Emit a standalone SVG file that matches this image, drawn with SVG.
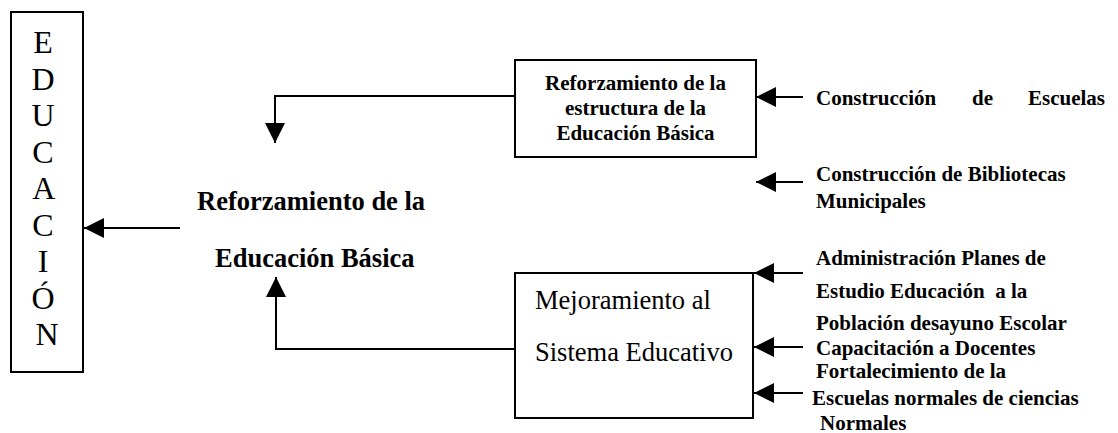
<svg xmlns="http://www.w3.org/2000/svg" width="1118" height="433" viewBox="0 0 1118 433">
<style>
.box{fill:#fff;stroke:#000;stroke-width:2}
.ln{fill:none;stroke:#000;stroke-width:2}
.b{font-family:"Liberation Serif",serif;font-weight:bold;fill:#000}
.r{font-family:"Liberation Serif",serif;fill:#000}
</style>
<defs>
<marker id="ah" markerUnits="userSpaceOnUse" markerWidth="20" markerHeight="20" refX="20" refY="10" orient="auto" viewBox="0 0 20 20">
<path d="M0,0 L20,10 L0,20 z" fill="#000"/>
</marker>
</defs>
<g id="educacion">
<rect class="box" x="11" y="12" width="72" height="360"/>
<text class="r" font-size="32" text-anchor="middle">
<tspan x="47" y="53">E</tspan>
<tspan x="47" y="89.5">D</tspan>
<tspan x="47" y="126">U</tspan>
<tspan x="47" y="162.5">C</tspan>
<tspan x="47" y="199">A</tspan>
<tspan x="47" y="235.5">C</tspan>
<tspan x="47" y="272">I</tspan>
<tspan x="47" y="308.5">Ó</tspan>
<tspan x="47" y="345">N</tspan>
</text>
</g>
<g id="reforzamiento">
<text class="b" font-size="26.5"><tspan x="197" y="210">Reforzamiento de la</tspan><tspan x="215" y="267">Educación Básica</tspan></text>
</g>
<g id="estructura">
<rect class="box" x="515" y="60" width="241" height="97"/>
<text class="b" font-size="21" text-anchor="middle"><tspan x="635.5" y="90">Reforzamiento de la</tspan><tspan x="635.5" y="115">estructura de la</tspan><tspan x="635.5" y="140">Educación Básica</tspan></text>
</g>
<g id="mejoramiento">
<rect class="box" x="515" y="273" width="238" height="145"/>
<text class="r" font-size="26.5"><tspan x="535" y="309">Mejoramiento al</tspan><tspan x="535" y="361">Sistema Educativo</tspan></text>
</g>
<g id="escuelas">
<text class="b" font-size="21"><tspan x="816" y="105">Construcción</tspan><tspan x="972" y="105">de</tspan><tspan x="1028" y="105">Escuelas</tspan></text>
</g>
<g id="bibliotecas">
<text class="b" font-size="21"><tspan x="816" y="181">Construcción de Bibliotecas</tspan><tspan x="816" y="208">Municipales</tspan></text>
</g>
<g id="administracion">
<text class="b" font-size="21" xml:space="preserve"><tspan x="816" y="265">Administración Planes de</tspan><tspan x="816" y="298">Estudio Educación  a la</tspan><tspan x="816" y="330">Población desayuno Escolar</tspan></text>
</g>
<g id="capacitacion">
<text class="b" font-size="21"><tspan x="816" y="355">Capacitación a Docentes</tspan></text>
</g>
<g id="fortalecimiento">
<text class="b" font-size="21"><tspan x="816" y="378">Fortalecimiento de la</tspan><tspan x="812" y="405">Escuelas normales de ciencias</tspan><tspan x="820" y="430">Normales</tspan></text>
</g>
<g id="connectors">
<path class="ln" d="M515,96 H275 V143" marker-end="url(#ah)"/>
<path class="ln" d="M515,349 H276 V277" marker-end="url(#ah)"/>
<path class="ln" d="M180,228 H84" marker-end="url(#ah)"/>
<path class="ln" d="M803,97 H756" marker-end="url(#ah)"/>
<path class="ln" d="M803,182 H756" marker-end="url(#ah)"/>
<path class="ln" d="M803,273 H754" marker-end="url(#ah)"/>
<path class="ln" d="M803,347 H754" marker-end="url(#ah)"/>
<path class="ln" d="M803,393 H754" marker-end="url(#ah)"/>
</g>
</svg>
